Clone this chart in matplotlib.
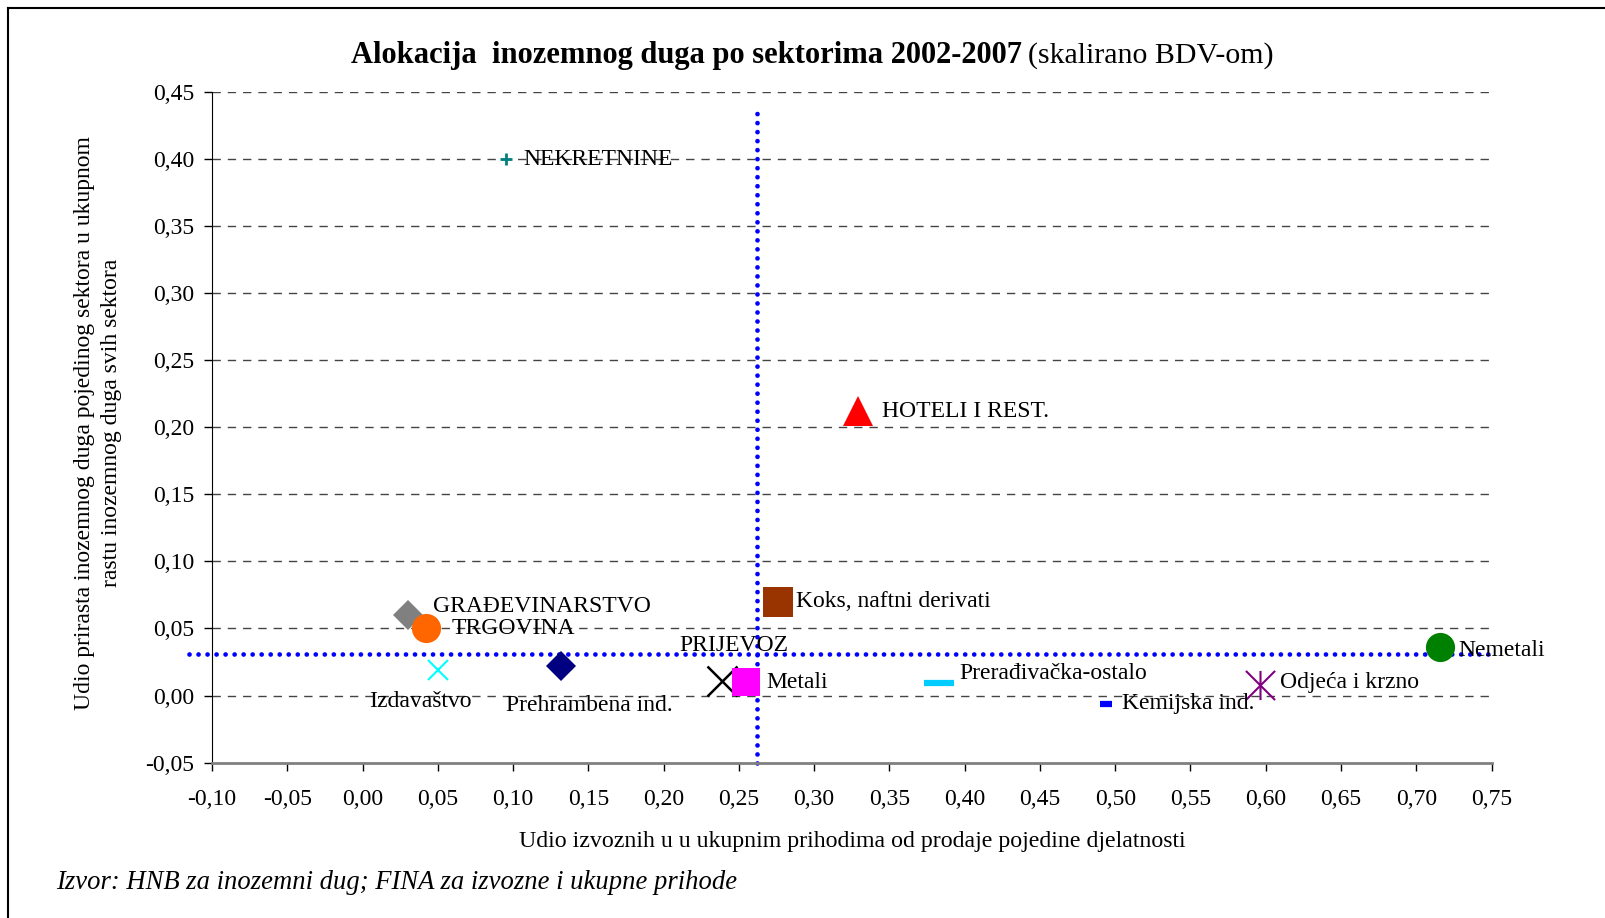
import matplotlib.pyplot as plt
from matplotlib.path import Path
from matplotlib.lines import Line2D

# sectors: export share (x) vs share in foreign debt growth (y)
sectors = ['NEKRETNINE', 'HOTELI I REST.', 'Koks, naftni derivati', 'GRAĐEVINARSTVO',
           'TRGOVINA', 'Izdavaštvo', 'Prehrambena ind.', 'PRIJEVOZ', 'Metali',
           'Prerađivačka-ostalo', 'Kemijska ind.', 'Odjeća i krzno', 'Nemetali']
export_share = [0.095, 0.329, 0.276, 0.030, 0.042, 0.050, 0.132, 0.239, 0.255,
                0.383, 0.494, 0.596, 0.716]
debt_share = [0.400, 0.212, 0.070, 0.060, 0.050, 0.019, 0.022, 0.011, 0.010,
              0.009, -0.006, 0.008, 0.036]

# average lines
avg_export = 0.262
avg_debt = 0.031
avg_export_top = 0.44
avg_debt_left = -0.115

x_ticks = [-0.10, -0.05, 0.00, 0.05, 0.10, 0.15, 0.20, 0.25, 0.30, 0.35,
           0.40, 0.45, 0.50, 0.55, 0.60, 0.65, 0.70, 0.75]
y_ticks = [-0.05, 0.00, 0.05, 0.10, 0.15, 0.20, 0.25, 0.30, 0.35, 0.40, 0.45]

asterisk = Path([(-0.5, -0.5), (0.5, 0.5), (-0.5, 0.5), (0.5, -0.5), (0, -0.5), (0, 0.5)],
                [Path.MOVETO, Path.LINETO, Path.MOVETO, Path.LINETO, Path.MOVETO, Path.LINETO])

# marker, size, colour, edge width, label offset (px), label alignment
styles = {
    'NEKRETNINE': ('+', 9, '#008080', 2, (18, 0), 'left'),
    'HOTELI I REST.': ('^', 22, '#FF0000', 0, (24, 0), 'left'),
    'Koks, naftni derivati': ('s', 22, '#993300', 0, (18, 0), 'left'),
    'GRAĐEVINARSTVO': ('D', 15, '#808080', 0, (25, 9), 'left'),
    'TRGOVINA': ('o', 21, '#FF6600', 0, (26, 0), 'left'),
    'Izdavaštvo': ('x', 14, '#00FFFF', 1.5, (-17, -31), 'center'),
    'Prehrambena ind.': ('D', 15, '#000080', 0, (28, -39), 'center'),
    'PRIJEVOZ': ('x', 21, '#000000', 1.8, (12, 35), 'center'),
    'Metali': ('s', 20, '#FF00FF', 0, (20, 0), 'left'),
    'Prerađivačka-ostalo': ('_', 22, '#00CCFF', 4.5, (20, 10), 'left'),
    'Kemijska ind.': ('_', 9, '#0000FF', 4.5, (16, 0), 'left'),
    'Odjeća i krzno': (asterisk, 21, '#800080', 1.5, (20, 2), 'left'),
    'Nemetali': ('o', 21, '#008000', 0, (18, -3), 'left'),
}

plt.rcParams['font.family'] = ['Liberation Serif', 'DejaVu Serif']

fig = plt.figure(figsize=(16.05, 9.18), dpi=100)
ax = fig.add_axes([0.1321, 0.1693, 0.9293 - 0.1321, 0.8998 - 0.1693])

ax.set_xlim(-0.10, 0.75)
ax.set_ylim(-0.05, 0.45)

# dashed gridlines
for yv in y_ticks[1:]:
    ax.plot([-0.10, 0.75], [yv, yv], color='#444444', lw=1, linestyle=(0, (6, 5)), zorder=1)

# average lines
dots = dict(color='#0000FF', lw=3.4, linestyle=(0, (0.01, 1.9)), dash_capstyle='round',
            clip_on=False, zorder=2)
ax.plot([avg_debt_left, 0.75], [avg_debt, avg_debt], **dots)
ax.plot([avg_export, avg_export], [-0.05, avg_export_top], **dots)

for name, xv, yv in zip(sectors, export_share, debt_share):
    mk, ms, col, mew, off, ha = styles[name]
    if mk in ('+', 'x', '_') or isinstance(mk, Path):
        ax.plot(xv, yv, marker=mk, markersize=ms, color=col, markeredgewidth=mew,
                linestyle='none', zorder=3)
    else:
        ax.plot(xv, yv, marker=mk, markersize=ms, markerfacecolor=col,
                markeredgecolor=col, markeredgewidth=0, linestyle='none', zorder=3)
    ax.annotate(name, (xv, yv), xytext=off, textcoords='offset pixels',
                ha=ha, va='center', fontsize=17, zorder=4)

ax.spines['top'].set_visible(False)
ax.spines['right'].set_visible(False)
ax.spines['left'].set_color('black')
ax.spines['bottom'].set_color('#808080')
ax.spines['bottom'].set_linewidth(2)

ax.set_xticks(x_ticks)
ax.set_yticks(y_ticks)
ax.set_xticklabels([f'{v:.2f}'.replace('.', ',') for v in x_ticks])
ax.set_yticklabels([f'{v:.2f}'.replace('.', ',') for v in y_ticks])
ax.tick_params(axis='both', direction='out', length=6, width=1, colors='black',
               labelsize=17)
ax.tick_params(axis='x', pad=13)
ax.tick_params(axis='y', pad=7)

fig.text(0.531, 0.0835, 'Udio izvoznih u u ukupnim prihodima od prodaje pojedine djelatnosti',
         ha='center', va='center', fontsize=17.2)
fig.text(0.061, 0.539, 'Udio prirasta inozemnog duga pojedinog sektora u ukupnom\n'
         'rastu inozemnog duga svih sektora', ha='center', va='center', rotation=90,
         fontsize=17, linespacing=1.35)

fig.text(0.6365, 0.939, 'Alokacija  inozemnog duga po sektorima 2002-2007',
         ha='right', va='center', fontsize=22, fontweight='bold')
fig.text(0.6405, 0.939, '(skalirano BDV-om)', ha='left', va='center', fontsize=21.5)

fig.text(0.035, 0.039, 'Izvor: HNB za inozemni dug; FINA za izvozne i ukupne prihode',
         ha='left', va='center', fontsize=19.2, style='italic')

# chart frame (only top and left edges visible)
fig.add_artist(Line2D([0.005, 0.005], [0, 0.9913], color='black', lw=1.5,
                      transform=fig.transFigure))
fig.add_artist(Line2D([0.005, 1], [0.9913, 0.9913], color='black', lw=1.5,
                      transform=fig.transFigure))

fig.savefig('out.png', dpi=100)
